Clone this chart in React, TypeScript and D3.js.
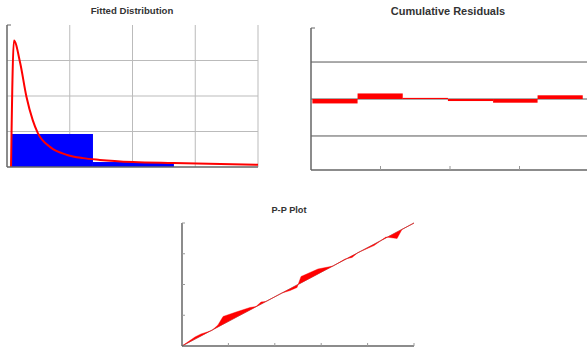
import React from "react";
import * as d3 from "d3";

// Fitted distribution: histogram bins and fitted density (x / density units)
const binEdges = [0.08, 1.37, 2.66];
const binHeights = [0.93, 0.14];
const densityX = [0.064, 0.11, 0.21, 0.31, 0.41, 0.49, 0.69, 0.96, 1.21, 1.48, 2.01, 2.65, 4.0];
const densityY = [0, 3.56, 2.93, 1.98, 1.32, 0.96, 0.56, 0.34, 0.25, 0.2, 0.14, 0.11, 0.06];

// Cumulative residuals: step edges and values
const residEdges = [0.02, 0.67, 1.32, 1.97, 2.62, 3.26, 3.91];
const residValues = [-0.12, 0.15, 0.03, -0.055, -0.1, 0.1];

// P-P plot: fitted vs empirical probabilities
const pFitted = [0, 0.056, 0.082, 0.129, 0.155, 0.177, 0.233, 0.293, 0.319, 0.341, 0.362, 0.431, 0.466, 0.496, 0.513, 0.586, 0.651, 0.703, 0.733, 0.759, 0.828, 0.879, 0.927, 0.948, 1];
const pEmpirical = [0, 0.073, 0.098, 0.126, 0.171, 0.24, 0.276, 0.313, 0.321, 0.358, 0.362, 0.431, 0.451, 0.476, 0.565, 0.626, 0.65, 0.707, 0.72, 0.76, 0.817, 0.886, 0.874, 0.947, 1];

const titleFont = "'Liberation Sans', Arial, sans-serif";

const App = () => {
  // chart 1 scales
  const x1 = d3.scaleLinear().domain([0, 4]).range([7, 258]);
  const y1 = d3.scaleLinear().domain([0, 4]).range([167, 25]);
  const densityLine = d3
    .line<number>()
    .x((d, i) => x1(densityX[i]))
    .y((d) => y1(d))
    .curve(d3.curveMonotoneX);

  // chart 2 scales
  const x2 = d3.scaleLinear().domain([0, 4]).range([311, 589]);
  const y2 = d3.scaleLinear().domain([-1.92, 1.92]).range([170, 28]);

  // chart 3 scales
  const x3 = d3.scaleLinear().domain([0, 1]).range([182, 414]);
  const y3 = d3.scaleLinear().domain([0, 1]).range([346, 223]);
  const ppArea = d3
    .area<number>()
    .x((d, i) => x3(pFitted[i]))
    .y0((d, i) => y3(pFitted[i]))
    .y1((d) => y3(d));

  const axisColor = "#666";

  return (
    <svg
      width={587}
      height={349}
      style={{ position: "absolute", left: 0, top: 0, background: "#fff" }}
    >
      {/* Fitted Distribution */}
      <text x={132} y={14} textAnchor="middle" fontFamily={titleFont} fontWeight="bold" fontSize={9.6} fill="#333">
        Fitted Distribution
      </text>
      {[1, 2, 3].map((t) => (
        <line key={"h" + t} x1={x1(0)} x2={x1(4)} y1={y1(t)} y2={y1(t)} stroke="#bbb" strokeWidth={1} />
      ))}
      {[1, 2, 3, 4].map((t) => (
        <line key={"v" + t} x1={x1(t)} x2={x1(t)} y1={y1(4)} y2={y1(0)} stroke="#bbb" strokeWidth={1} />
      ))}
      {binHeights.map((h, i) => (
        <rect
          key={"b" + i}
          x={x1(binEdges[i])}
          y={y1(h)}
          width={x1(binEdges[i + 1]) - x1(binEdges[i])}
          height={y1(0) - y1(h)}
          fill="#0000ff"
        />
      ))}
      <path d={densityLine(densityY) || ""} fill="none" stroke="#ff0000" strokeWidth={2} />
      <line x1={x1(0)} x2={x1(0)} y1={y1(4)} y2={y1(0)} stroke={axisColor} strokeWidth={1.5} />
      <line x1={x1(0)} x2={x1(0) + 4} y1={y1(4)} y2={y1(4)} stroke={axisColor} strokeWidth={1} />
      <line x1={x1(0)} x2={x1(4)} y1={y1(0)} y2={y1(0)} stroke={axisColor} strokeWidth={1.5} />

      {/* Cumulative Residuals */}
      <text x={448} y={15} textAnchor="middle" fontFamily={titleFont} fontWeight="bold" fontSize={11} fill="#333">
        Cumulative Residuals
      </text>
      {[-1, 0, 1].map((t) => (
        <line key={"r" + t} x1={x2(0)} x2={x2(4)} y1={y2(t)} y2={y2(t)} stroke="#555" strokeWidth={1} />
      ))}
      {residValues.map((v, i) => (
        <rect
          key={"s" + i}
          x={x2(residEdges[i])}
          y={Math.min(y2(v), y2(0))}
          width={x2(residEdges[i + 1]) - x2(residEdges[i])}
          height={Math.max(Math.abs(y2(v) - y2(0)), 1)}
          fill="#ff0000"
        />
      ))}
      <line x1={x2(0)} x2={x2(0)} y1={y2(1.92)} y2={y2(-1.92)} stroke={axisColor} strokeWidth={1.5} />
      <line x1={x2(0)} x2={x2(0) + 4} y1={y2(1.92)} y2={y2(1.92)} stroke={axisColor} strokeWidth={1} />
      <line x1={x2(0)} x2={x2(4)} y1={y2(-1.92)} y2={y2(-1.92)} stroke={axisColor} strokeWidth={1.5} />
      {[1, 2, 3, 4].map((t) => (
        <line key={"xt" + t} x1={x2(t)} x2={x2(t)} y1={y2(-1.92)} y2={y2(-1.92) - 4} stroke="#999" strokeWidth={1} />
      ))}

      {/* P-P Plot */}
      <text x={289} y={213} textAnchor="middle" fontFamily={titleFont} fontWeight="bold" fontSize={9.2} fill="#333">
        P-P Plot
      </text>
      <line x1={x3(0)} x2={x3(1)} y1={y3(0)} y2={y3(1)} stroke="#999" strokeWidth={1} />
      <path d={ppArea(pEmpirical) || ""} fill="#ff0000" stroke="#ff0000" strokeWidth={0.4} />
      <line x1={x3(0)} x2={x3(0)} y1={y3(1)} y2={y3(0)} stroke={axisColor} strokeWidth={1.5} />
      <line x1={x3(0)} x2={x3(1)} y1={y3(0)} y2={y3(0)} stroke={axisColor} strokeWidth={1.5} />
      {[0.25, 0.5, 0.75, 1].map((t) => (
        <line key={"py" + t} x1={x3(0)} x2={x3(0) + 3} y1={y3(t)} y2={y3(t)} stroke="#999" strokeWidth={1} />
      ))}
      {[0.2, 0.4, 0.6, 0.8, 1].map((t) => (
        <line key={"px" + t} x1={x3(t)} x2={x3(t)} y1={y3(0)} y2={y3(0) - 3} stroke="#999" strokeWidth={1} />
      ))}
    </svg>
  );
};

export default App;
